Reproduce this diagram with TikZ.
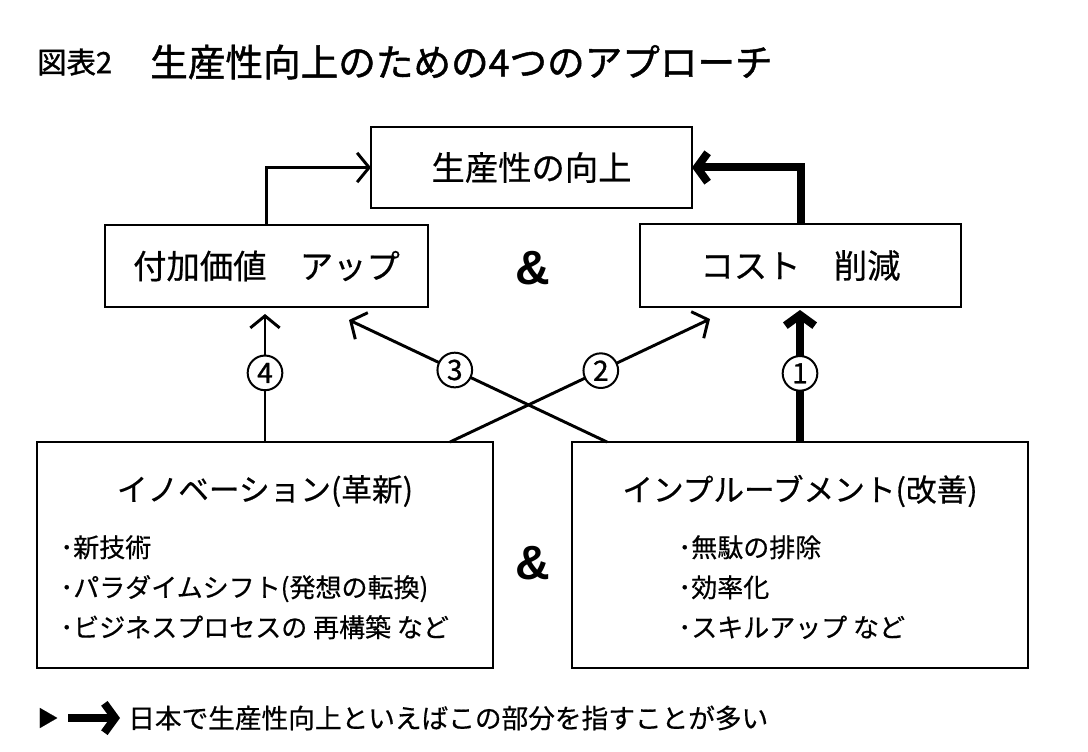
\documentclass[tikz,border=0pt]{standalone}
\usepackage{fontspec}
\setmainfont{Noto Sans CJK JP}[FakeBold=0.5]
\newfontfamily\titlefont{Noto Sans CJK JP}[FakeBold=1.2]
\newfontfamily\numfont{Noto Sans CJK JP}[FakeBold=1.0]
\newfontfamily\ampfont{Liberation Sans}
\usetikzlibrary{arrows.meta}
\newcommand{\fs}[1]{\fontsize{#1}{#1}\selectfont}
\begin{document}
\begin{tikzpicture}[x=0.75pt,y=-0.75pt,
  box/.style={draw,line width=2.2pt,inner sep=0pt,outer sep=0pt},
  thinarrow/.style={line width=2.2pt,-{Straight Barb[length=9pt,width=22pt]}},
  boldarrow/.style={line width=6pt,line join=miter,-{Straight Barb[length=8pt,width=22pt]}},
  num/.style={circle,draw,line width=1.5pt,fill=white,minimum size=26pt,inner sep=0pt,font=\numfont\fs{21}},
  lbl/.style={inner sep=0pt,font=\fs{25}},
  sub/.style={inner sep=0pt,font=\fs{23}},
  blist/.style={inner sep=0pt,align=left,anchor=north west,font=\fontsize{19.5}{30}\selectfont},
  amp/.style={inner sep=0pt,font=\ampfont\bfseries\fs{36}},
]
\useasboundingbox (0,0) rectangle (1088,752);
% title
\node[inner sep=0pt,anchor=west,font=\titlefont\fs{22}] (t1) at (37,62) {図表2};
\node[inner sep=0pt,anchor=west,font=\titlefont\fs{28.2}] (t2) at (150,62) {生産性向上のための4つのアプローチ};
% boxes
\node[box,minimum width=240.75pt,minimum height=60.75pt] (top) at (531.5,167.5) {};
\node[lbl] at (top.center) {生産性の向上};
\node[box,minimum width=242.25pt,minimum height=61.5pt] (lb) at (266.5,266) {};
\node[lbl] at (lb.center) {付加価値　アップ};
\node[box,minimum width=240.75pt,minimum height=62.25pt] (rb) at (800.5,265.5) {};
\node[lbl] at (rb.center) {コスト　削減};
\node[amp] (amp1) at (533,268) {\&};
\node[box,minimum width=342pt,minimum height=169.5pt] (bl) at (265,555) {};
\node[box,minimum width=342pt,minimum height=169.5pt] (br) at (800,555) {};
\node[amp] (amp2) at (533,563) {\&};
\node[sub] (blt) at (265,491) {イノベーション(革新)};
\node[sub] (brt) at (800,491) {インプルーブメント(改善)};
\node[blist] (blb) at (60,535) {･新技術\\･パラダイムシフト(発想の転換)\\･ビジネスプロセスの 再構築 など};
\node[blist] (brb) at (678,535) {･無駄の排除\\･効率化\\･スキルアップ など};
% connectors
\coordinate (e4) at (265,314);
\coordinate (e1) at (800,310);
\coordinate (s2) at (450,442);
\coordinate (e2) at (710,319);
\coordinate (s3) at (607,442);
\coordinate (e3) at (349,320);
\draw[thinarrow] (lb.north) |- (top.west);
\draw[boldarrow] (rb.north) |- (top.east);
\draw[thinarrow] (s2) -- node[num,pos=0.58]{2} (e2);
\draw[thinarrow] (s3) -- node[num,pos=0.59]{3} (e3);
\draw[thinarrow] (bl.north) -- node[num,pos=0.54]{4} (e4);
\draw[boldarrow] (br.north) -- node[num,pos=0.52]{1} (e1);
% legend
\node[inner sep=0pt,anchor=west,font=\fs{16}] (tri) at (37,718) {▶};
\coordinate (ls) at (68,718);
\coordinate (le) at (120,718);
\draw[boldarrow] (ls) -- (le);
\node[inner sep=0pt,anchor=west,font=\fs{20}] (legend) at (128,718) {日本で生産性向上といえばこの部分を指すことが多い};
\end{tikzpicture}
\end{document}
